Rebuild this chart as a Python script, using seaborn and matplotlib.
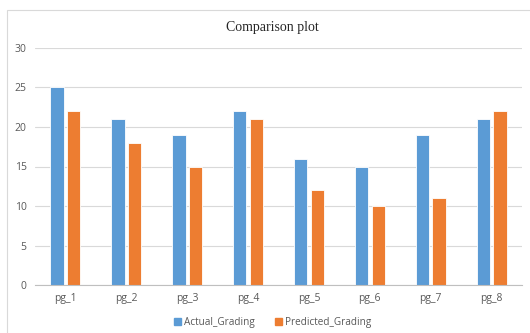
import pandas as pd
import seaborn as sns
import matplotlib.pyplot as plt
from matplotlib.patches import Rectangle

# data
pages = ['pg_1', 'pg_2', 'pg_3', 'pg_4', 'pg_5', 'pg_6', 'pg_7', 'pg_8']
actual = [25, 21, 19, 22, 16, 15, 19, 21]
predicted = [22, 18, 15, 21, 12, 10, 11, 22]
series = ['Actual_Grading', 'Predicted_Grading']
colors = ['#5B9BD5', '#ED7D31']

df = pd.DataFrame({'page': pages * 2,
                   'grade': actual + predicted,
                   'kind': [series[0]] * len(pages) + [series[1]] * len(pages)})

sns.set_style('white')
plt.rcParams['font.family'] = ['Open Sans', 'DejaVu Sans']

fig = plt.figure(figsize=(5.3, 3.33), dpi=100)
ax = fig.add_axes([0.066, 0.144, 0.919, 0.712])

# excel-like chart frame
fig.patches.append(Rectangle((7 / 530, -0.1), 1.2, 1 - 10 / 333 + 0.1,
                             transform=fig.transFigure, fill=False,
                             edgecolor='#D9D9D9', linewidth=0.8))

sns.barplot(data=df, x='page', y='grade', hue='kind', palette=colors,
            saturation=1, width=0.55, gap=0.2, edgecolor='white',
            linewidth=0.6, ax=ax, legend=False)

ax.set_ylim(0, 30)
ax.set_yticks(range(0, 31, 5))
ax.yaxis.grid(True, color='#D9D9D9', linewidth=0.8)
ax.set_axisbelow(True)
for s in ['top', 'right', 'left']:
    ax.spines[s].set_visible(False)
ax.spines['bottom'].set_color('#BFBFBF')
ax.tick_params(axis='both', length=0, labelsize=7.5, colors='#595959', pad=6)
ax.set_xlabel('')
ax.set_ylabel('')

fig.text(0.513, 1 - 27 / 333, 'Comparison plot', ha='center', va='center',
         fontsize=10, family='Liberation Serif', color='#262626')

handles = [Rectangle((0, 0), 1, 1, color=c) for c in colors]
fig.legend(handles, series, loc='center', bbox_to_anchor=(0.515, 1 - 322 / 333),
           ncol=2, frameon=False, fontsize=7.2, labelcolor='#595959',
           handlelength=0.7, handleheight=0.7, handletextpad=0.3,
           columnspacing=2.0)

plt.savefig('out.png', dpi=100)
